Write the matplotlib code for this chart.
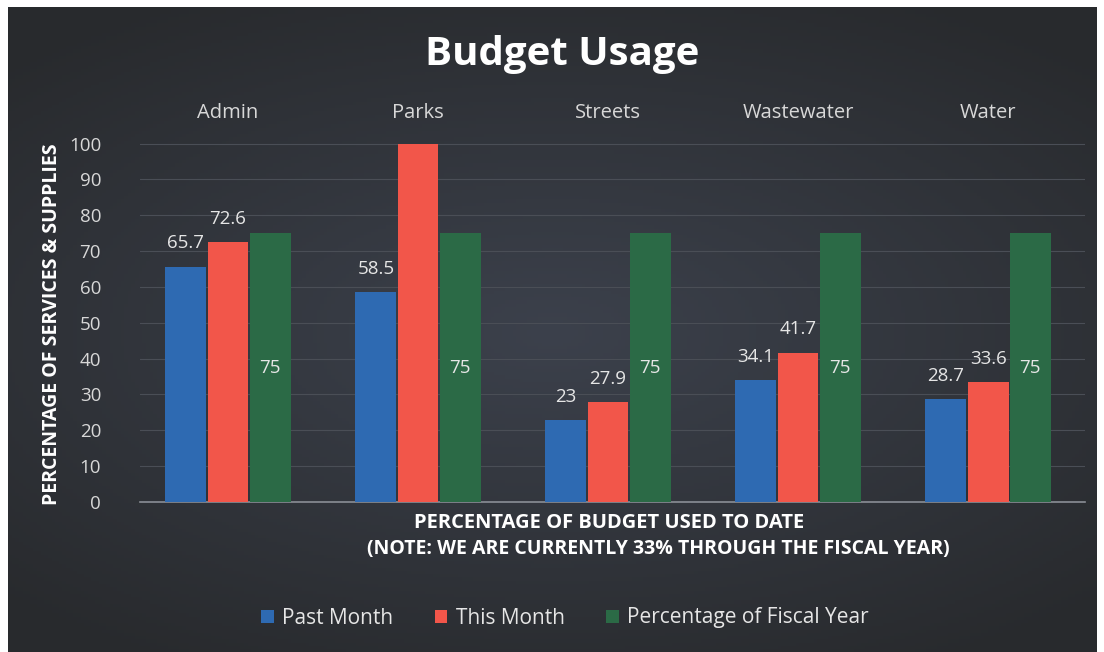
import matplotlib
matplotlib.use("Agg")
import matplotlib.pyplot as plt
import numpy as np

categories = ["Admin", "Parks", "Streets", "Wastewater", "Water"]
past_month = [65.7, 58.5, 23, 34.1, 28.7]
this_month = [72.6, 100, 27.9, 41.7, 33.6]
fiscal_year = [75, 75, 75, 75, 75]
series_names = ["Past Month", "This Month", "Percentage of Fiscal Year"]
y_ticks = [0, 10, 20, 30, 40, 50, 60, 70, 80, 90, 100]

BLUE = "#2e6ab2"
RED = "#f2564a"
GREEN = "#2b6a46"
TXT = "#e6e6e6"
FONT = ["Open Sans", "DejaVu Sans"]

W, H = 1104, 652
fig = plt.figure(figsize=(W / 100, H / 100), dpi=100, facecolor="white")

# dark background panel with soft gradient
bg = fig.add_axes([8 / W, -0.01, (1097 - 8) / W, (H - 7) / H + 0.01])
bg.set_axis_off()
xx, yy = np.meshgrid(np.linspace(-1, 1, 300), np.linspace(-1, 1, 200))
r = np.clip(np.sqrt((xx * 0.9) ** 2 + (yy * 1.1) ** 2), 0, 1.3)
c_edge = np.array([0x28, 0x2a, 0x2d]) / 255
c_mid = np.array([0x3c, 0x41, 0x4c]) / 255
t = (r / 1.3)[..., None]
img = c_mid * (1 - t) + c_edge * t
bg.imshow(img, aspect="auto", extent=[0, 1, 0, 1])
bg.set_xlim(0, 1)
bg.set_ylim(0, 1)

left, right = 140, 1085
top, bottom = 140, 502
ax = fig.add_axes([left / W, 1 - bottom / H, (right - left) / W, (bottom - top) / H])
ax.set_facecolor("none")

x = np.arange(len(categories))
w = 0.215
off = 0.222
b1 = ax.bar(x - off, past_month, w, color=BLUE, label=series_names[0], zorder=3)
b2 = ax.bar(x, this_month, w, color=RED, label=series_names[1], zorder=3)
b3 = ax.bar(x + off, fiscal_year, w, color=GREEN, label=series_names[2], zorder=3)

for bars, vals in ((b1, past_month), (b2, this_month)):
    for rect, v in zip(bars, vals):
        if v >= 100:
            continue
        ax.annotate(f"{v:g}", (rect.get_x() + rect.get_width() / 2, v),
                    xytext=(0, 13), textcoords="offset points", ha="center", va="baseline",
                    color=TXT, fontsize=13.5, family=FONT, zorder=4)
for rect, v in zip(b3, fiscal_year):
    ax.text(rect.get_x() + rect.get_width() / 2, v / 2, f"{v:g}", ha="center", va="center",
            color=TXT, fontsize=13.5, family=FONT, zorder=4)

ax.set_ylim(0, 101)
ax.set_xlim(-0.463, 4.51)
ax.set_yticks(y_ticks)
ax.set_yticklabels([str(v) for v in y_ticks], color="#d8d8d8", fontsize=13.5, family=FONT)
ax.set_xticks(x)
ax.set_xticklabels(categories, color="#d8d8d8", fontsize=14.5, family=FONT)
ax.tick_params(axis="x", top=False, bottom=False, labeltop=True, labelbottom=False, pad=9)
ax.tick_params(axis="y", length=0, pad=28)
ax.grid(axis="y", color="#4a4e56", linewidth=0.8, zorder=0)
for s in ["top", "right", "left"]:
    ax.spines[s].set_visible(False)
ax.spines["bottom"].set_color("#8a8e96")
ax.spines["bottom"].set_linewidth(1.2)

ax.set_ylabel("PERCENTAGE OF SERVICES & SUPPLIES", color="white", fontsize=14,
              family=FONT, fontweight="bold")
ax.yaxis.set_label_coords((62 - left) / (right - left), 0.49)

fig.text(562 / W, 1 - 65 / H, "Budget Usage", ha="center", va="baseline", color="white",
         fontsize=29, fontweight="bold", family=FONT)

fig.text(609 / W, 1 - 523 / H, "PERCENTAGE OF BUDGET USED TO DATE", ha="center", va="center",
         color="white", fontsize=14.5, family=FONT, fontweight="bold")
fig.text(658 / W, 1 - 549 / H, "(NOTE: WE ARE CURRENTLY 33% THROUGH THE FISCAL YEAR)",
         ha="center", va="center", color="white", fontsize=14, family=FONT, fontweight="bold")

leg = fig.legend(handles=[b1, b2, b3], loc="center", bbox_to_anchor=(565 / W, 1 - 618 / H),
                 ncol=3, frameon=False, handlelength=0.6, handleheight=0.6,
                 handletextpad=0.4, columnspacing=2.0, prop={"family": FONT, "size": 15})
for t_ in leg.get_texts():
    t_.set_color("#e6e6e6")

fig.savefig("out.png", dpi=100, facecolor="white")
